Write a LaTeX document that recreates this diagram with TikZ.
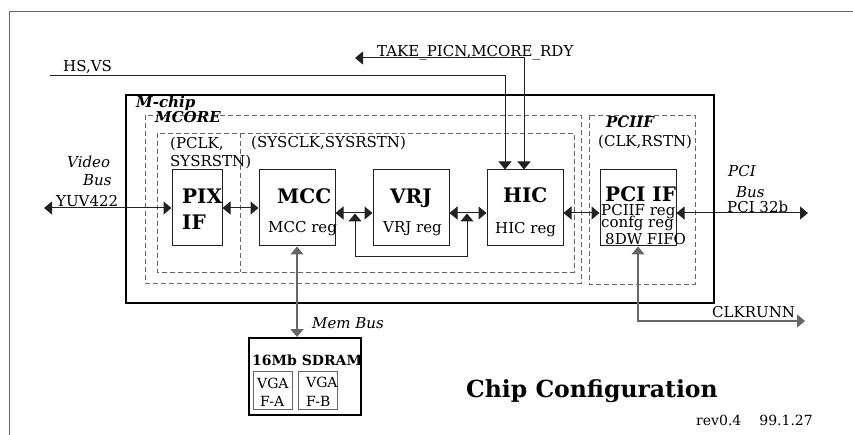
\documentclass[tikz,border=0pt]{standalone}
\usepackage{fontspec}
\setmainfont{DejaVu Serif}
\usetikzlibrary{arrows.meta}
\definecolor{ln}{HTML}{222222}
\definecolor{gl}{HTML}{666666}
\begin{document}
\begin{tikzpicture}[x=1pt,y=-1pt,
  >={Triangle[length=8pt,width=13pt]},
  txt/.style={inner sep=0pt,anchor=base west,font=\fontsize{15}{17}\selectfont},
  itx/.style={txt,font=\fontsize{15}{17}\selectfont\itshape},
  bix/.style={txt,font=\fontsize{15}{17}\selectfont\bfseries\itshape},
  big/.style={txt,font=\fontsize{20}{22}\selectfont\bfseries},
  small/.style={txt,font=\fontsize{14}{16}\selectfont},
  box/.style={draw=ln,line width=1pt,inner sep=0pt},
  thick box/.style={draw=black,line width=2pt,inner sep=0pt},
  dbox/.style={draw=gl,line width=0.9pt,dash pattern=on 5pt off 3pt},
  wire/.style={draw=ln,line width=1pt},
  gwire/.style={draw=gl,line width=1.3pt}]
\useasboundingbox (0,0) rectangle (853,435);
% outer frame
\draw[gl,line width=1pt] (853,12) -- (9,12) -- (9,435);
% containers
\draw[black,line width=2pt] (126,95) rectangle (714,303);
\draw[dbox] (145,115) rectangle (581,283);
\draw[dbox] (157,133) rectangle (574,272);
\draw[dbox] (240,133) -- (240,272);
\draw[dbox] (589,115) rectangle (695,284);
% blocks
\node[box,minimum width=50pt,minimum height=76pt] (pix) at (197,208) {};
\node[box,minimum width=76pt,minimum height=76pt] (mcc) at (297,208) {};
\node[box,minimum width=76pt,minimum height=76pt] (vrj) at (411,208) {};
\node[box,minimum width=76pt,minimum height=76pt] (hic) at (525,208) {};
\node[box,minimum width=76pt,minimum height=76pt] (pci) at (638,208) {};
\node[thick box,minimum width=112pt,minimum height=77pt] (sdram) at (305,376.5) {};
\node[draw=gl,line width=1pt,inner sep=0pt,minimum width=39pt,minimum height=38pt] (vga) at (272.5,390) {};
\node[draw=gl,line width=1pt,inner sep=0pt,minimum width=39pt,minimum height=38pt] (vgb) at (317.5,390) {};
% texts
\node[txt] (ths) at (63,71.5) {HS,VS};
\node[txt] (ttake) at (377,56.5) {TAKE\_PICN,MCORE\_RDY};
\node[bix] (tmchip) at (136,108) {M-chip};
\node[bix] (tmcore) at (155,122.5) {MCORE};
\node[txt] (tpclk) at (170,148.5) {(PCLK,};
\node[txt] (tsysr) at (170,166.5) {SYSRSTN)};
\node[txt] (tsys) at (251,148) {(SYSCLK,SYSRSTN)};
\node[bix] (tpciif) at (606,128) {PCIIF};
\node[txt] (tclk) at (598,147) {(CLK,RSTN)};
\node[itx] (tvideo) at (67,168) {Video};
\node[itx] (tbus) at (83,186) {Bus};
\node[txt] (tyuv) at (56,207) {YUV422};
\node[big] (tpix) at (182,204) {PIX};
\node[big] (tif) at (182,230) {IF};
\node[big] (tmcc) at (277,204) {MCC};
\node[txt] (tmccr) at (268,232.5) {MCC reg};
\node[big] (tvrj) at (390,204) {VRJ};
\node[txt] (tvrjr) at (383,232.5) {VRJ reg};
\node[big] (thic) at (503,203) {HIC};
\node[txt] (thicr) at (495,234) {HIC reg};
\node[big] (tpci) at (605,202) {PCI IF};
\node[txt] (tpcir) at (601,216) {PCIIF reg};
\node[txt] (tconf) at (601,228) {confg reg};
\node[txt] (tfifo) at (605,245) {8DW FIFO};
\node[itx] (tpcil) at (728,177) {PCI};
\node[itx] (tpcib) at (736,198) {Bus};
\node[txt] (tpci32) at (727,212.5) {PCI 32b};
\node[txt] (tclkrun) at (712,317) {CLKRUNN};
\node[itx] (tmem) at (312,328) {Mem Bus};
\node[txt,font=\fontsize{14}{16}\selectfont\bfseries] (tsd) at (252,365) {16Mb SDRAM};
\node[small] (tvga) at (257,388) {VGA};
\node[small] (tfa) at (260,406) {F-A};
\node[small] (tvgb) at (306,387) {VGA};
\node[small] (tfb) at (306,406) {F-B};
\node[txt,font=\fontsize{23.5}{27}\selectfont\bfseries] (ttitle) at (466,397) {Chip Configuration};
\node[small] (trev) at (696,425) {rev0.4\hspace{18pt}99.1.27};
% free ends
\coordinate (hsend) at (50,76);
\coordinate (takeend) at (355,58);
\coordinate (yuvend) at (44,208);
\coordinate (pciend) at (808,213);
\coordinate (clkend) at (805,321);
% connectors
\draw[wire,->] (hsend) -| ([xshift=-20pt]hic.north);
\draw[wire,<->] (takeend) -| ([xshift=-1pt]hic.north);
\draw[wire,<->] (yuvend) -- (pix.west);
\draw[wire,<->] (pix.east) -- (mcc.west);
\draw[wire,<->] ([yshift=-5pt]mcc.east) -- ([yshift=-5pt]vrj.west);
\draw[wire,<->] ([yshift=-5pt]vrj.east) -- ([yshift=-5pt]hic.west);
\draw[wire,<->] ([yshift=-5pt]hic.east) -- ([yshift=-5pt]pci.west);
\coordinate (bl) at (355,257);
\coordinate (br) at (467,257);
\draw[wire,->] (bl) -- (355,213.5);
\draw[wire,->] (bl) -- (br) -- (467,213.5);
\draw[wire,<->] ([yshift=-5pt]pci.east) -- (pciend);
\draw[gwire,<->] (mcc.south) -- (mcc.south |- sdram.north);
\draw[gwire,<->] (pci.south) |- (clkend);
\end{tikzpicture}
\end{document}
